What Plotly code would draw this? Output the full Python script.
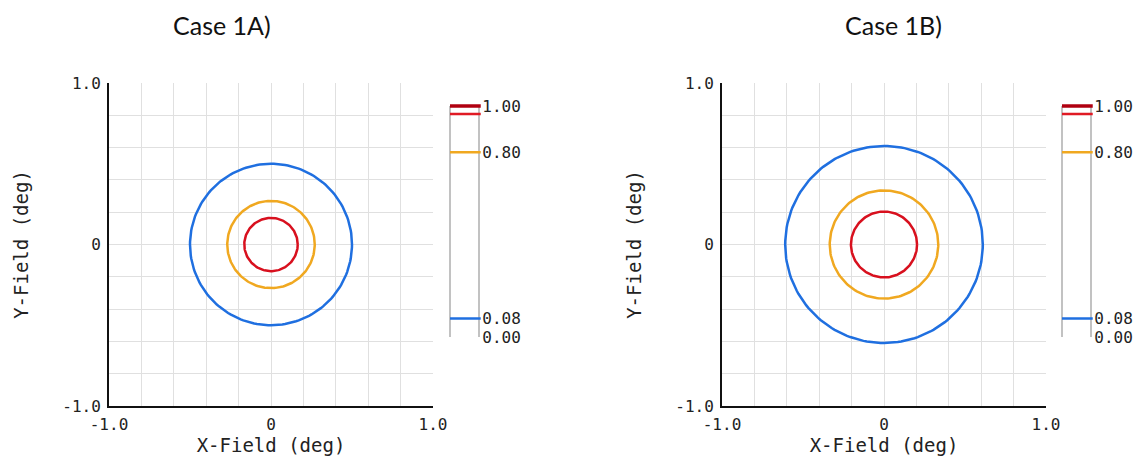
import numpy as np
import plotly.graph_objects as go

# page is offset by the default 8px body margin; work in page pixels
OFF = 8
W, H = 1142 - OFF, 461 - OFF

# ---- data ----
cases = ["Case 1A)", "Case 1B)"]
levels = [0.08, 0.80, 0.965, 1.00]
level_colors = ["#1f6fe0", "#f0a820", "#e01a24", "#b00010"]
level_widths = [2.5, 2.5, 2.5, 3.5]
tick_vals = [0.00, 0.08, 0.80, 1.00]
tick_text = ["0.00", "0.08", "0.80", "1.00"]
# contour radii (deg) for blue (0.08), orange (0.80), red (0.965)
radii_1A = [0.50, 0.27, 0.165]
radii_1B = [0.61, 0.335, 0.204]
circle_colors = ["#1f6fe0", "#f0a820", "#d8101e"]

MONO = "DejaVu Sans Mono"
GRID = "#e0e0e0"

def px_x(a, b):
    return [(a - OFF) / W, (b - OFF) / W]

def px_y(top, bottom):
    return [1 - (bottom - OFF) / H, 1 - (top - OFF) / H]

fig = go.Figure()

theta = np.linspace(0, 2 * np.pi, 181)

panels = [
    dict(radii=radii_1A, main=(109, 433), cb=(450, 479), title_x=222),
    dict(radii=radii_1B, main=(722, 1046), cb=(1062, 1091), title_x=893),
]
plot_top, plot_bot = 83, 406
cb_top_v, cb_bot_v = 106, 337  # pixel rows of 1.00 and 0.00

layout_axes = {}
for i, p in enumerate(panels):
    ax_main = 2 * i + 1
    ax_cb = 2 * i + 2
    xm = "x" if ax_main == 1 else f"x{ax_main}"
    ym = "y" if ax_main == 1 else f"y{ax_main}"
    xc, yc = f"x{ax_cb}", f"y{ax_cb}"
    for r, c in zip(p["radii"], circle_colors):
        fig.add_trace(go.Scatter(x=r * np.cos(theta), y=r * np.sin(theta), mode="lines",
                                 line=dict(color=c, width=2.5), xaxis=xm, yaxis=ym,
                                 showlegend=False, hoverinfo="skip"))
    # colorbar frame (vertical gray lines)
    for xv in [0, 1]:
        fig.add_trace(go.Scatter(x=[xv, xv], y=[0, 1], mode="lines",
                                 line=dict(color="#999999", width=1.2), xaxis=xc, yaxis=yc,
                                 showlegend=False, hoverinfo="skip"))
    for lv, c, lw in zip(levels, level_colors, level_widths):
        fig.add_trace(go.Scatter(x=[0, 1.06], y=[lv, lv], mode="lines",
                                 line=dict(color=c, width=lw), xaxis=xc, yaxis=yc,
                                 showlegend=False, hoverinfo="skip"))

    common = dict(range=[-1, 1], tickvals=[-1, 0, 1], ticktext=["-1.0", "0", "1.0"],
                  showgrid=True, gridcolor=GRID, gridwidth=1,
                  minor=dict(dtick=0.2, showgrid=True, gridcolor=GRID, gridwidth=1),
                  zeroline=False, showline=True, linecolor="#111111", linewidth=2,
                  ticks="", tickfont=dict(family=MONO, size=16, color="#222222"),
                  ticklabelstandoff=3, fixedrange=True, automargin=False)
    gx = dict(common, domain=px_x(*p["main"]), anchor=ym,
              title=dict(text="X-Field (deg)", font=dict(family=MONO, size=19, color="#222222"),
                         standoff=3))
    gy = dict(common, domain=px_y(plot_top, plot_bot), anchor=xm,
              title=dict(text="Y-Field (deg)", font=dict(family=MONO, size=19, color="#222222"),
                         standoff=29))
    layout_axes["xaxis" if ax_main == 1 else f"xaxis{ax_main}"] = gx
    layout_axes["yaxis" if ax_main == 1 else f"yaxis{ax_main}"] = gy

    # colorbar axes
    a, b = p["cb"]
    unit = (b - a)
    xr = [-0.1, 1.08]
    cx = dict(range=xr, domain=px_x(a + xr[0] * unit, a + xr[1] * unit), visible=False,
              anchor=yc, fixedrange=True, automargin=False)
    vunit = cb_bot_v - cb_top_v
    yr = [-0.03, 1.03]
    cy = dict(range=yr, domain=px_y(cb_bot_v - yr[1] * vunit, cb_bot_v - yr[0] * vunit),
              side="right", anchor=xc, showgrid=False, zeroline=False, showline=False,
              tickvals=tick_vals, ticktext=tick_text, ticks="", automargin=False,
              tickfont=dict(family=MONO, size=16, color="#222222"), fixedrange=True)
    layout_axes[f"xaxis{ax_cb}"] = cx
    layout_axes[f"yaxis{ax_cb}"] = cy

annotations = [dict(text=t, x=(p["title_x"] - OFF) / W, y=1.0,
                    xref="paper", yref="paper",
                    showarrow=False, font=dict(family="Lato", size=25, color="#111111"),
                    xanchor="center", yanchor="top")
               for t, p in zip(cases, panels)]

fig.update_layout(width=W, height=H, margin=dict(l=0, r=0, t=0, b=0),
                  paper_bgcolor="white", plot_bgcolor="white",
                  annotations=annotations, **layout_axes)

fig.write_html("out.html")
